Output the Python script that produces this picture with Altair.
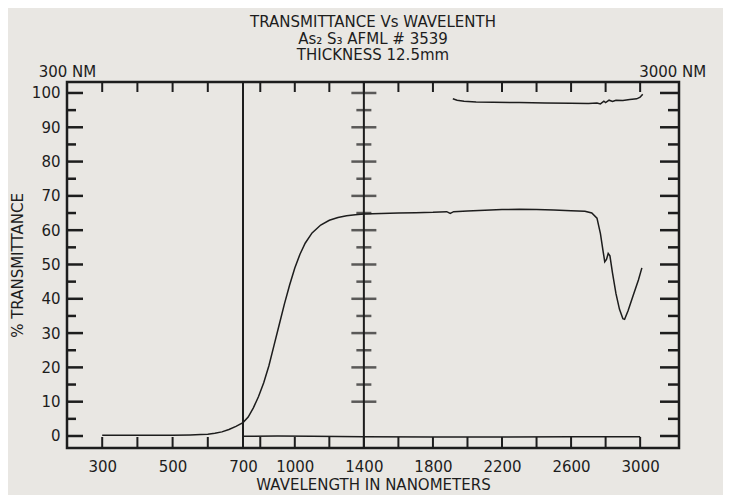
import altair as alt
import pandas as pd

# ---------------- data ----------------
main_nm = [300, 350, 400, 450, 500, 550, 580, 600, 620, 640, 660, 680, 700,
           730, 760, 790, 820, 850, 880, 910, 940, 970, 1000, 1030, 1060, 1100,
           1150, 1200, 1250, 1300, 1350, 1400, 1450, 1500, 1600, 1700, 1800,
           1880, 1900, 1920, 2000, 2100, 2200, 2300, 2400, 2500, 2600, 2680,
           2720, 2750, 2770, 2785, 2795, 2805, 2815, 2825, 2840, 2860, 2880,
           2900, 2910, 2930, 2960, 2990, 3010]
main_t = [0.2, 0.2, 0.2, 0.2, 0.2, 0.3, 0.4, 0.5, 0.8, 1.2, 1.9, 2.8, 3.9,
          5.5, 8.2, 11.5, 15.5, 20.5, 26.5, 32.5, 38.5, 44.0, 49.0, 53.0, 56.2, 59.2,
          61.5, 62.9, 63.7, 64.2, 64.5, 64.7, 64.8, 64.9, 65.0, 65.1, 65.2,
          65.4, 64.9, 65.4, 65.6, 65.8, 66.0, 66.1, 66.0, 65.9, 65.7, 65.5,
          65.0, 63.5, 59.0, 54.0, 50.8, 51.5, 53.2, 52.5, 47.5, 41.5, 37.0,
          34.2, 34.0, 36.5, 41.0, 45.5, 49.0]

ref_nm = [1915, 1940, 1980, 2050, 2150, 2300, 2450, 2600, 2700, 2750, 2770,
          2790, 2800, 2820, 2840, 2860, 2900, 2940, 2980, 3000, 3015]
ref_t = [98.3, 97.9, 97.6, 97.4, 97.3, 97.2, 97.1, 97.0, 96.9, 97.1, 96.8,
         97.6, 97.2, 97.9, 97.5, 97.9, 97.8, 98.1, 98.3, 98.8, 99.6]

zero_nm = [700, 900, 1100, 1400, 1800, 2200, 2600, 3000]
zero_t = [-0.1, 0.0, -0.1, -0.2, -0.3, -0.3, -0.2, -0.2]

x_tick_nm = [300, 400, 500, 600, 700, 800, 1000, 1200, 1400, 1600, 1800,
             2000, 2200, 2400, 2600, 2800, 3000]
x_label_nm = [300, 500, 700, 1000, 1400, 1800, 2200, 2600, 3000]
divider_nm = [700, 1400]
y_major = list(range(0, 101, 10))
y_minor = list(range(5, 100, 10))
mid_major = list(range(10, 101, 10))
mid_minor = list(range(15, 100, 10))

title_lines = ["TRANSMITTANCE Vs WAVELENTH", "As\u2082 S\u2083 AFML # 3539", "THICKNESS 12.5mm"]

# ---------------- styling ----------------
W, H = 612, 366
INK = "#1d1d1d"
BG = "#e9e7e3"
FONT = "DejaVu Sans"

xs = alt.Scale(domain=[200, 700, 3225], range=[0, 176, W], nice=False, zero=False)
ys = alt.Scale(domain=[-3.5, 103.2], nice=False, zero=False)
AX = alt.Axis(values=x_label_nm, format="d", title="WAVELENGTH IN NANOMETERS",
              labelPadding=11, titlePadding=3)
AY = alt.Axis(values=y_major, format="d", title="% TRANSMITTANCE",
              labelPadding=7, titlePadding=6)


def X(field):
    return alt.X(field, scale=xs, axis=AX)


def Y(field):
    return alt.Y(field, scale=ys, axis=AY)


curves = pd.concat([
    pd.DataFrame({"nm": main_nm, "t": main_t, "series": "sample"}),
    pd.DataFrame({"nm": ref_nm, "t": ref_t, "series": "reference"}),
    pd.DataFrame({"nm": zero_nm, "t": zero_t, "series": "zero"}),
])

lines = alt.Chart(curves).mark_line(color=INK, strokeWidth=1.5).encode(
    x=X("nm:Q"), y=Y("t:Q"), detail="series:N")

dividers = alt.Chart(pd.DataFrame({"nm": divider_nm})).mark_rule(
    color=INK, strokeWidth=2).encode(
    x=X("nm:Q"), y=alt.value(0), y2=alt.value(H))

ymaj = pd.DataFrame({"v": y_major})
ymin = pd.DataFrame({"v": y_minor})
left_major = alt.Chart(ymaj).mark_rule(color=INK, strokeWidth=2.5).encode(
    y=Y("v:Q"), x=alt.value(0), x2=alt.value(16))
left_minor = alt.Chart(ymin).mark_rule(color=INK, strokeWidth=2.5).encode(
    y=Y("v:Q"), x=alt.value(0), x2=alt.value(9))
right_major = alt.Chart(ymaj).mark_rule(color=INK, strokeWidth=2.5).encode(
    y=Y("v:Q"), x=alt.value(W - 19), x2=alt.value(W))
right_minor = alt.Chart(ymin).mark_rule(color=INK, strokeWidth=2.5).encode(
    y=Y("v:Q"), x=alt.value(W - 11), x2=alt.value(W))

mid_df_major = pd.DataFrame({"v": mid_major, "nm": 1400})
mid_df_minor = pd.DataFrame({"v": mid_minor, "nm": 1400})
mid_maj = alt.Chart(mid_df_major).mark_tick(
    orient="horizontal", color=INK, thickness=2.5, size=25).encode(
    x=X("nm:Q"), y=Y("v:Q"))
mid_min = alt.Chart(mid_df_minor).mark_tick(
    orient="horizontal", color=INK, thickness=2.5, size=15).encode(
    x=X("nm:Q"), y=Y("v:Q"))

xt = pd.DataFrame({"nm": x_tick_nm})
bottom_ticks = alt.Chart(xt).mark_rule(color=INK, strokeWidth=2).encode(
    x=X("nm:Q"), y=alt.value(H), y2=alt.value(H - 11))
top_ticks = alt.Chart(xt).mark_rule(color=INK, strokeWidth=2).encode(
    x=X("nm:Q"), y=alt.value(0), y2=alt.value(10))

lbl_left = alt.Chart(pd.DataFrame({"nm": [300], "label": ["300 NM"]})).mark_text(
    align="right", baseline="middle", dx=-6, font=FONT, fontSize=15, color=INK).encode(
    x=X("nm:Q"), y=alt.value(-10), text="label:N")
lbl_right = alt.Chart(pd.DataFrame({"nm": [3000], "label": ["3000 NM"]})).mark_text(
    align="left", baseline="middle", dx=-1, font=FONT, fontSize=15, color=INK).encode(
    x=X("nm:Q"), y=alt.value(-10), text="label:N")

chart = alt.layer(
    lines, dividers, left_major, left_minor, right_major, right_minor,
    mid_maj, mid_min, bottom_ticks, top_ticks, lbl_left, lbl_right,
).properties(
    width=W, height=H,
    background=BG,
    padding={"left": 59, "top": 74, "right": 44, "bottom": 47},
    autosize=alt.AutoSizeParams(type="none"),
    title=alt.Title(title_lines, font=FONT, fontSize=15, fontWeight="normal",
                    color=INK, lineHeight=16.5, anchor="middle", offset=2),
).configure_view(
    stroke=INK, strokeWidth=2.5, fill=BG
).configure_axis(
    grid=False, ticks=False, domain=False,
    labelFont=FONT, titleFont=FONT, labelColor=INK, titleColor=INK,
    labelFontSize=15, titleFontSize=15, titleFontWeight="normal",
)

chart.save("out.html", embed_options={"renderer": "svg", "actions": False})
